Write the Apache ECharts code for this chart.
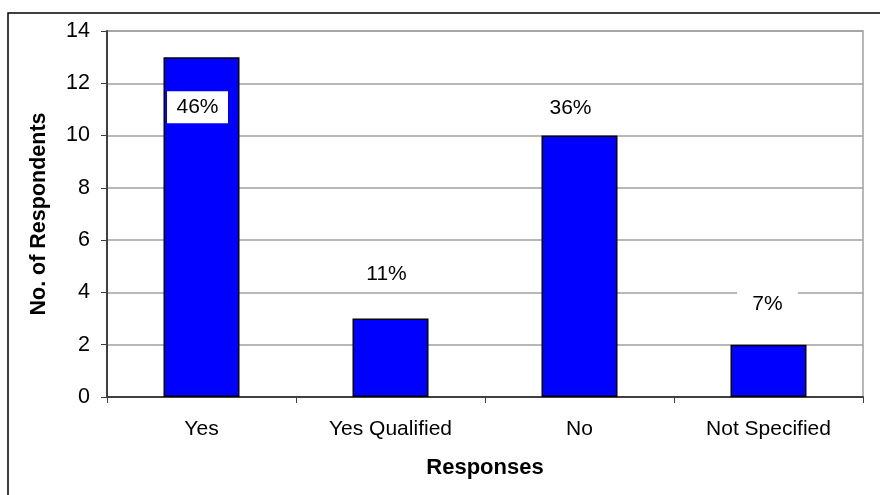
<!DOCTYPE html>
<html>
<head>
<meta charset="utf-8">
<script src="https://cdn.jsdelivr.net/npm/echarts@6/dist/echarts.min.js"></script>
<style>
  html, body { margin: 0; padding: 0; background: #fff; }
  #chart { width: 880px; height: 495px; }
</style>
</head>
<body>
<div id="chart"></div>
<script>
// Survey responses
const categories = ['Yes', 'Yes Qualified', 'No', 'Not Specified'];
const respondents = [13, 3, 10, 2];
const shareLabels = ['46%', '11%', '36%', '7%'];
const yTicks = { min: 0, max: 14, interval: 2 };

// Label placement tweaks (x, y offsets in px) for each bar's percentage box
const labelShift = [[-4, 71], [-4, -23], [-9, -6], [-1, -20]];

const FONT = '"Liberation Sans", Arial, sans-serif';

const chart = echarts.init(document.getElementById('chart'), null, { renderer: 'canvas' });

const barData = respondents.map((v, i) => ({
  value: v,
  label: {
    show: true,
    position: 'top',
    distance: 5,
    offset: labelShift[i],
    formatter: shareLabels[i],
    color: '#000',
    fontFamily: FONT,
    fontSize: 21,
    lineHeight: 24,
    width: 43,
    align: 'center',
    backgroundColor: '#fff',
    padding: [4, 9]
  }
}));

chart.setOption({
  animation: false,
  backgroundColor: '#fff',
  graphic: [{
    type: 'rect',
    shape: { x: 8, y: 13, width: 900, height: 520 },
    style: { fill: 'none', stroke: '#000', lineWidth: 1.5 },
    z: -1
  }],
  grid: {
    left: 107, right: 17, top: 31, bottom: 98,
    show: true, borderColor: '#a0a0a0', borderWidth: 1.5, backgroundColor: 'transparent'
  },
  xAxis: {
    type: 'category',
    data: categories,
    name: 'Responses',
    nameLocation: 'middle',
    nameGap: 60,
    nameTextStyle: { fontFamily: FONT, fontSize: 22, fontWeight: 'bold', color: '#000' },
    axisLine: { lineStyle: { color: '#404040', width: 2 } },
    axisTick: { show: true, length: 6, alignWithLabel: false, lineStyle: { color: '#404040', width: 1 } },
    axisLabel: { fontFamily: FONT, fontSize: 21, color: '#000', margin: 22 }
  },
  yAxis: {
    type: 'value',
    min: yTicks.min, max: yTicks.max, interval: yTicks.interval,
    name: 'No. of Respondents',
    nameLocation: 'middle',
    nameRotate: 90,
    nameGap: 57,
    nameTextStyle: { fontFamily: FONT, fontSize: 21.5, fontWeight: 'bold', color: '#000' },
    axisLine: { show: true, lineStyle: { color: '#404040', width: 2 } },
    axisTick: { show: true, length: 6, lineStyle: { color: '#404040', width: 1 } },
    axisLabel: { fontFamily: FONT, fontSize: 21.5, color: '#000', margin: 17 },
    splitLine: { show: true, lineStyle: { color: '#a0a0a0', width: 1.5 } }
  },
  series: [{
    type: 'bar',
    data: barData,
    barWidth: 76,
    itemStyle: { color: '#0000ff', borderColor: '#000', borderWidth: 1.5 }
  }]
});
</script>
</body>
</html>
